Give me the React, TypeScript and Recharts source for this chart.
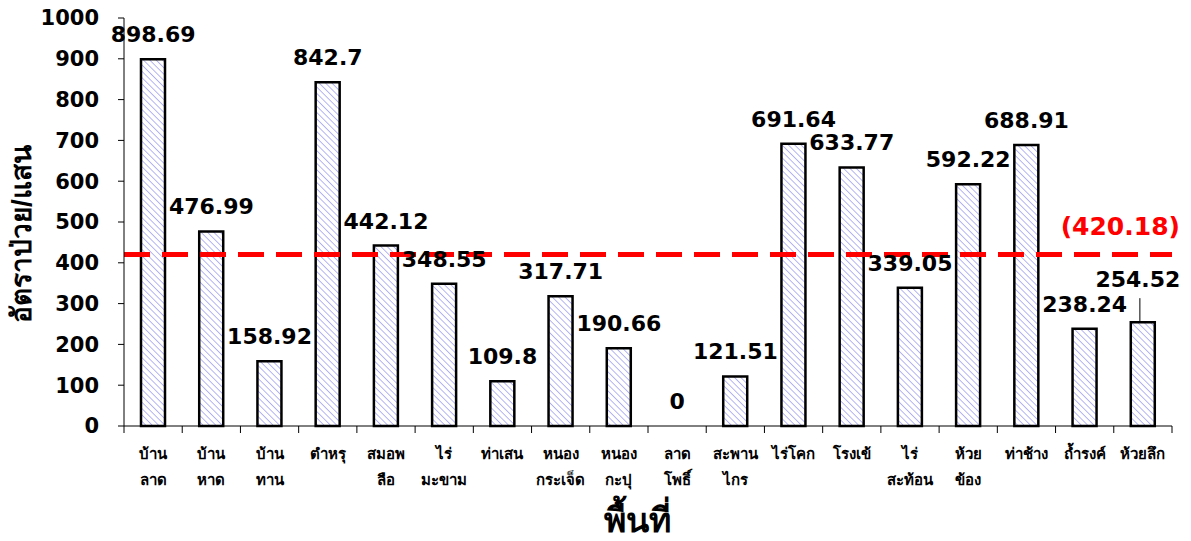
import { ComposedChart, Bar, Line, XAxis, YAxis, ReferenceLine, LabelList } from 'recharts';

const AREAS = [
  'บ้าน\nลาด', 'บ้าน\nหาด', 'บ้าน\nทาน', 'ตำหรุ', 'สมอพ\nลือ', 'ไร่\nมะขาม',
  'ท่าเสน', 'หนอง\nกระเจ็ด', 'หนอง\nกะปุ', 'ลาด\nโพธิ์', 'สะพาน\nไกร', 'ไร่โคก',
  'โรงเข้', 'ไร่\nสะท้อน', 'ห้วย\nข้อง', 'ท่าช้าง', 'ถ้ำรงค์', 'ห้วยลึก',
];
const RATES = [
  898.69, 476.99, 158.92, 842.7, 442.12, 348.55, 109.8, 317.71, 190.66,
  0, 121.51, 691.64, 633.77, 339.05, 592.22, 688.91, 238.24, 254.52,
];
const Y_TICKS = [0, 100, 200, 300, 400, 500, 600, 700, 800, 900, 1000];
const AVERAGE = 420.18;

const data = AREAS.map((name, i) => ({ name, value: RATES[i] }));

const THAI = "Tahoma, 'Liberation Sans', Arial, sans-serif";
const NUM = "'DejaVu Sans', Verdana, sans-serif";
const W = 1175;
const H = 525;
const PLOT_LEFT = 116;
const PLOT_RIGHT = 1164;
const BAND = (PLOT_RIGHT - PLOT_LEFT) / AREAS.length;
const LAST = AREAS.length - 1;

const XTick = (props: any) => {
  const { x, y, payload, index } = props;
  const lines = String(payload.value).split('\n');
  const left = x - BAND / 2;
  return (
    <g>
      <line x1={left} y1={y - 8} x2={left} y2={y - 1} stroke="#000" strokeWidth={1} />
      {index === LAST && (
        <line x1={x + BAND / 2} y1={y - 8} x2={x + BAND / 2} y2={y - 1} stroke="#000" strokeWidth={1} />
      )}
      {lines.map((l, k) => (
        <text key={k} x={x} y={y + 25 + k * 26} textAnchor="middle" fontFamily={THAI}
          fontWeight="bold" fontSize={15} fill="#000">
          {l}
        </text>
      ))}
    </g>
  );
};

// the last label sits higher with a leader line down to its bar
const ValueLabel = (props: any) => {
  const { x, y, value, index } = props;
  const isLast = index === LAST;
  return (
    <g>
      {isLast && (
        <line x1={x - 3} y1={y - 24} x2={x - 3} y2={y - 1} stroke="#000" strokeWidth={1} />
      )}
      <text x={isLast ? x - 5 : x} y={y - 17 - (isLast ? 18 : 0)} textAnchor="middle" fontFamily={NUM}
        fontWeight="bold" fontSize={22} fill="#000">
        {value}
      </text>
    </g>
  );
};

const YTitle = (props: any) => {
  const { viewBox } = props;
  const cy = viewBox.y + viewBox.height / 2 + 12;
  const x = 23;
  return (
    <text x={x} y={cy} transform={`rotate(-90 ${x} ${cy})`} textAnchor="middle"
      fontFamily={THAI} fontWeight="bold" fontSize={28} fill="#000">
      อัตราป่วย/แสน
    </text>
  );
};

const XTitle = (props: any) => {
  const { viewBox } = props;
  return (
    <text x={viewBox.x + viewBox.width / 2 - 11} y={viewBox.y + viewBox.height - 1} textAnchor="middle"
      fontFamily={THAI} fontWeight="bold" fontSize={34} fill="#000">
      พื้นที่
    </text>
  );
};

const AvgLabel = (props: any) => {
  const { viewBox } = props;
  return (
    <text x={viewBox.x + viewBox.width + 8} y={viewBox.y - 20} textAnchor="end"
      fontFamily={NUM} fontWeight="bold" fontSize={25} fill="#ff0000">
      ({AVERAGE})
    </text>
  );
};

export default function App() {
  return (
    <div style={{ width: W, height: H }}>
      <style>{'.recharts-surface { overflow: visible; }'}</style>
      <ComposedChart width={W} height={H} data={data}
        margin={{ top: 10, right: W - PLOT_RIGHT, left: 0, bottom: 0 }} barSize={24}>
        <defs>
          <pattern id="hatch" width={4.5} height={4.5} patternUnits="userSpaceOnUse" patternTransform="rotate(-45)">
            <rect width={4.5} height={4.5} fill="#fff" />
            <line x1={0} y1={0} x2={0} y2={4.5} stroke="#a4a4f2" strokeWidth={1.6} />
          </pattern>
        </defs>
        <XAxis dataKey="name" height={H - 10 - 408} interval={0} tickLine={false}
          axisLine={{ stroke: '#000', strokeWidth: 1 }} tick={<XTick />} label={<XTitle />} />
        <YAxis width={PLOT_LEFT} domain={[0, 1000]} ticks={Y_TICKS} interval={0} tickSize={6} tickMargin={19}
          axisLine={{ stroke: '#000', strokeWidth: 1 }} tickLine={{ stroke: '#000' }}
          tick={{ fontFamily: NUM, fontWeight: 'bold', fontSize: 21, fill: '#000' }}
          label={<YTitle />} />
        <Bar dataKey="value" fill="url(#hatch)" stroke="#000" strokeWidth={2.5} isAnimationActive={false} />
        <Line dataKey="value" stroke="none" dot={false} activeDot={false} isAnimationActive={false}>
          <LabelList dataKey="value" content={<ValueLabel />} />
        </Line>
        <ReferenceLine y={AVERAGE} stroke="#ff0000" strokeWidth={5} strokeDasharray="26 12"
          label={<AvgLabel />} />
      </ComposedChart>
    </div>
  );
}
